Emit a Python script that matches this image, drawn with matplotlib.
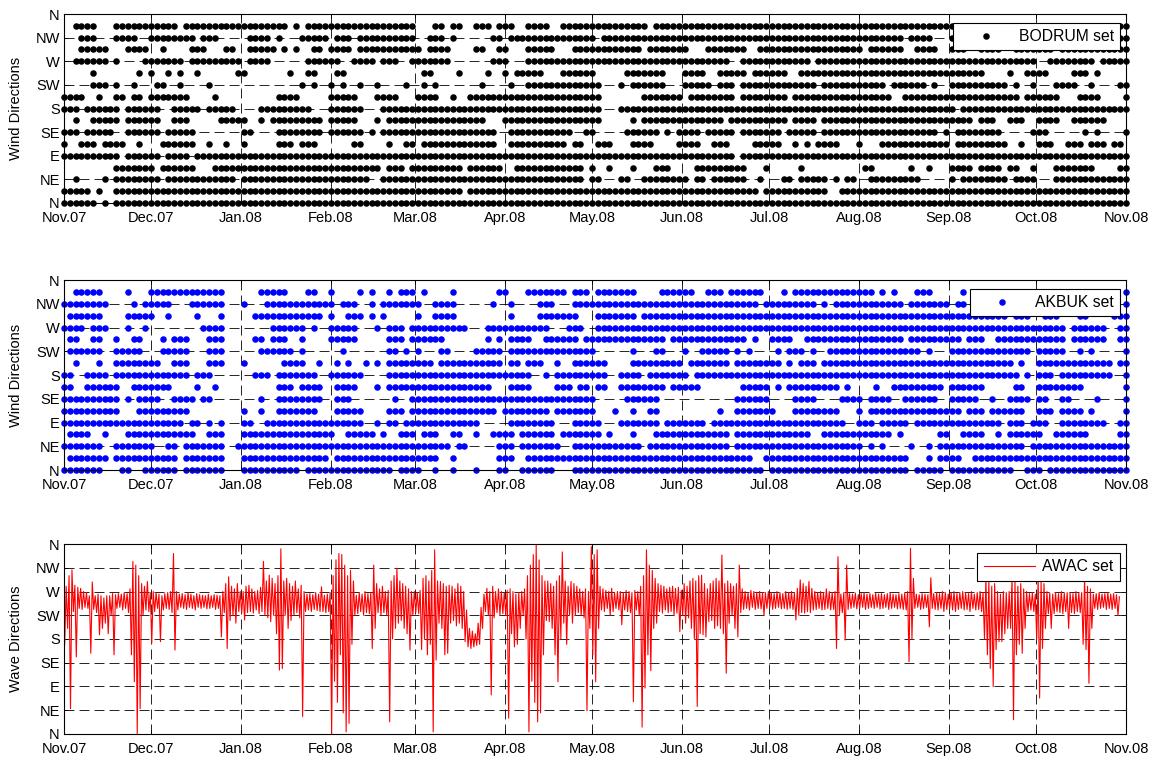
import numpy as np
import matplotlib.pyplot as plt

plt.rcParams['font.family'] = ['Liberation Sans', 'DejaVu Sans']
plt.rcParams['font.size'] = 10.5

# x axis: days since 1 Nov 2007
month_days = [0, 30, 61, 92, 121, 152, 182, 213, 243, 274, 305, 335, 366]
month_labels = ['Nov.07', 'Dec.07', 'Jan.08', 'Feb.08', 'Mar.08', 'Apr.08', 'May.08',
                'Jun.08', 'Jul.08', 'Aug.08', 'Sep.08', 'Oct.08', 'Nov.08']
dir_ticks = [0, 45, 90, 135, 180, 225, 270, 315, 360]
dir_labels = ['N', 'NE', 'E', 'SE', 'S', 'SW', 'W', 'NW', 'N']

# wind observations: runs of 2-day bins (first, last) in which each sector was reported
bodrum_n = [(0, 5), (7, 7), (9, 183)]
bodrum_nne = [(0, 4), (6, 6), (9, 68), (70, 119), (121, 131), (134, 183)]
bodrum_ne = [(2, 2), (7, 7), (9, 16), (18, 29), (31, 52), (55, 89), (91, 92), (96, 97), (100, 107),
             (109, 110), (112, 117), (120, 120), (124, 125), (127, 131), (133, 133), (135, 136),
             (139, 147), (153, 153), (155, 162), (164, 167), (171, 183)]
bodrum_ene = [(9, 15), (17, 22), (26, 54), (56, 58), (60, 68), (70, 75), (78, 89), (91, 91), (94, 94),
              (98, 98), (102, 104), (109, 117), (121, 121), (127, 127), (138, 139), (146, 146),
              (149, 149), (153, 156), (158, 161), (163, 164), (167, 167), (171, 177), (182, 183)]
bodrum_e = [(0, 9), (11, 16), (18, 21), (23, 115), (117, 183)]
bodrum_ese = [(0, 0), (3, 5), (7, 10), (13, 13), (17, 22), (25, 25), (28, 28), (31, 31), (37, 39),
              (41, 43), (50, 51), (56, 56), (59, 60), (62, 74), (77, 86), (88, 89), (92, 94), (98, 101),
              (106, 109), (112, 114), (119, 123), (126, 126), (128, 128), (130, 133), (137, 137),
              (141, 152), (154, 162), (165, 165), (168, 170), (173, 175), (177, 179), (181, 182)]
bodrum_se = [(0, 2), (4, 8), (11, 16), (18, 22), (31, 32), (37, 44), (46, 51), (53, 53), (55, 74),
             (77, 87), (90, 91), (97, 102), (104, 104), (106, 109), (111, 115), (117, 123), (125, 129),
             (131, 150), (152, 152), (154, 161), (167, 169), (176, 176), (178, 178), (183, 183)]
bodrum_sse = [(2, 2), (5, 9), (11, 16), (19, 21), (27, 31), (34, 34), (36, 44), (46, 50), (54, 54),
              (56, 72), (76, 92), (98, 98), (100, 113), (115, 124), (126, 129), (131, 156), (158, 160),
              (163, 165), (168, 171), (174, 179)]
bodrum_s = [(0, 2), (4, 9), (11, 16), (19, 23), (25, 29), (34, 42), (46, 51), (55, 92), (96, 153),
            (155, 171), (172, 183)]
bodrum_ssw = [(0, 3), (6, 6), (9, 10), (12, 13), (15, 21), (26, 26), (37, 40), (46, 50), (54, 57),
              (61, 64), (67, 67), (70, 92), (100, 106), (108, 115), (117, 124), (126, 142), (145, 164),
              (166, 171), (175, 178), (183, 183)]
bodrum_sw = [(5, 7), (9, 9), (12, 12), (16, 17), (20, 20), (25, 25), (41, 41), (43, 43), (46, 46),
             (48, 48), (51, 51), (54, 54), (59, 59), (62, 62), (64, 64), (72, 72), (77, 77), (80, 92),
             (96, 96), (98, 103), (107, 111), (113, 115), (117, 129), (131, 141), (143, 148), (150, 150),
             (153, 162), (164, 164), (167, 167), (171, 174), (177, 177), (182, 183)]
bodrum_wsw = [(5, 5), (13, 13), (15, 15), (18, 18), (20, 20), (23, 23), (30, 31), (39, 39), (42, 43),
              (47, 48), (62, 63), (68, 68), (73, 73), (76, 76), (78, 82), (86, 91), (97, 103), (107, 110),
              (113, 117), (119, 124), (127, 158), (163, 163), (166, 169), (174, 176), (178, 178)]
bodrum_w = [(2, 7), (9, 9), (14, 20), (22, 30), (32, 35), (42, 47), (50, 53), (55, 57), (60, 66),
            (74, 76), (80, 114), (117, 128), (130, 167), (170, 177), (179, 183)]
bodrum_wnw = [(3, 7), (11, 14), (17, 17), (22, 24), (28, 29), (32, 36), (38, 38), (40, 40), (43, 44),
              (46, 49), (51, 61), (63, 66), (71, 72), (75, 76), (80, 84), (88, 99), (101, 107), (111, 117),
              (120, 137), (139, 144), (147, 150), (153, 155), (158, 161), (164, 170), (172, 183)]
bodrum_nw = [(3, 5), (9, 12), (15, 22), (24, 26), (32, 35), (37, 37), (41, 45), (47, 49), (51, 60),
             (63, 65), (67, 67), (74, 75), (77, 91), (93, 144), (146, 149), (153, 154), (182, 183)]
bodrum_nnw = [(2, 5), (9, 19), (21, 38), (40, 40), (42, 60), (64, 65), (67, 68), (71, 73), (75, 77),
              (80, 83), (86, 100), (102, 109), (110, 154), (182, 183)]

akbuk_n = [(0, 6), (10, 11), (14, 19), (21, 27), (31, 40), (42, 56), (58, 61), (64, 64), (67, 67),
           (71, 71), (75, 76), (79, 84), (88, 120), (122, 145), (147, 151), (153, 163), (166, 168),
           (170, 183)]
akbuk_nne = [(1, 7), (9, 19), (21, 27), (31, 45), (47, 62), (63, 64), (67, 67), (75, 77), (80, 118),
             (121, 145), (149, 149), (151, 154), (157, 183)]
akbuk_ne = [(0, 6), (9, 15), (18, 19), (21, 27), (30, 66), (68, 69), (75, 77), (79, 85), (88, 99),
            (101, 114), (116, 137), (139, 139), (141, 141), (146, 146), (149, 149), (151, 165), (167, 183)]
akbuk_ene = [(1, 4), (7, 7), (11, 22), (25, 27), (31, 46), (49, 53), (55, 55), (58, 60), (62, 64),
             (67, 68), (71, 71), (74, 77), (79, 84), (86, 92), (94, 94), (98, 98), (102, 114), (116, 128),
             (131, 142), (144, 144), (151, 152), (155, 158), (161, 161), (163, 168), (171, 176), (182, 183)]
akbuk_e = [(0, 20), (22, 23), (25, 25), (27, 27), (31, 32), (35, 51), (54, 54), (56, 57), (59, 71),
           (77, 84), (88, 92), (96, 102), (104, 110), (112, 134), (137, 139), (141, 145), (147, 161),
           (163, 165), (167, 169), (172, 179), (182, 183)]
akbuk_ese = [(0, 9), (13, 21), (31, 31), (34, 34), (37, 43), (47, 51), (56, 58), (60, 74), (76, 83),
             (85, 91), (95, 95), (98, 98), (101, 102), (113, 113), (116, 122), (126, 133), (137, 137),
             (139, 154), (156, 158), (160, 165), (168, 170), (172, 175), (177, 177), (183, 183)]
akbuk_se = [(0, 9), (11, 11), (13, 16), (19, 22), (24, 25), (34, 34), (37, 44), (47, 49), (57, 57),
            (60, 91), (97, 102), (116, 121), (126, 129), (134, 137), (139, 142), (145, 150), (153, 157),
            (160, 160), (163, 166), (168, 169), (172, 173), (178, 178), (183, 183)]
akbuk_sse = [(0, 1), (4, 9), (12, 18), (23, 23), (26, 26), (37, 39), (41, 44), (47, 50), (54, 54),
             (56, 73), (77, 80), (85, 87), (89, 90), (92, 93), (96, 103), (105, 109), (117, 121),
             (123, 123), (125, 133), (135, 135), (140, 140), (143, 151), (153, 158), (164, 165),
             (168, 175), (183, 183)]
akbuk_s = [(0, 1), (4, 7), (9, 21), (23, 25), (33, 35), (37, 43), (46, 51), (56, 80), (83, 83), (85, 93),
           (96, 99), (101, 107), (109, 164), (166, 166), (168, 170), (172, 180), (183, 183)]
akbuk_ssw = [(2, 2), (6, 6), (9, 16), (19, 21), (25, 27), (31, 31), (38, 41), (44, 44), (47, 47),
             (49, 49), (52, 52), (54, 54), (56, 63), (65, 75), (77, 78), (80, 82), (85, 85), (88, 93),
             (98, 106), (108, 114), (116, 123), (125, 125), (127, 129), (131, 163), (165, 165),
             (168, 180), (182, 183)]
akbuk_sw = [(1, 6), (9, 13), (17, 21), (25, 27), (34, 39), (41, 41), (48, 48), (56, 57), (59, 59),
            (61, 61), (65, 66), (71, 75), (77, 91), (98, 98), (102, 103), (107, 107), (110, 114),
            (116, 116), (118, 118), (123, 123), (125, 127), (129, 129), (132, 147), (149, 149),
            (153, 166), (168, 172), (175, 175), (177, 177), (183, 183)]
akbuk_wsw = [(1, 2), (5, 6), (9, 9), (12, 13), (17, 17), (19, 21), (25, 27), (33, 34), (36, 38), (41, 41),
             (46, 50), (56, 58), (60, 65), (73, 73), (75, 75), (77, 80), (83, 88), (90, 103), (105, 117),
             (119, 119), (122, 125), (128, 144), (146, 154), (156, 158), (161, 172), (174, 179), (182, 183)]
akbuk_w = [(0, 3), (5, 7), (11, 11), (14, 14), (24, 27), (36, 41), (43, 43), (46, 50), (54, 54),
           (56, 58), (60, 69), (73, 83), (87, 89), (92, 140), (141, 172), (174, 179), (182, 183)]
akbuk_wnw = [(1, 6), (11, 15), (18, 18), (23, 23), (27, 27), (33, 44), (46, 46), (49, 51), (53, 53),
             (55, 55), (61, 61), (64, 67), (77, 77), (82, 88), (92, 98), (100, 162), (164, 166),
             (169, 171), (175, 176), (181, 183)]
akbuk_nw = [(0, 7), (12, 12), (14, 18), (22, 27), (31, 31), (35, 46), (48, 50), (53, 53), (55, 61),
            (64, 67), (74, 74), (77, 77), (82, 84), (88, 119), (121, 129), (131, 131), (133, 144),
            (146, 152), (154, 155), (183, 183)]
akbuk_nnw = [(2, 6), (11, 11), (15, 27), (34, 38), (42, 43), (46, 46), (51, 51), (53, 53), (56, 56),
             (58, 60), (62, 62), (67, 67), (75, 76), (80, 86), (88, 90), (92, 98), (103, 108), (111, 113),
             (115, 120), (124, 124), (126, 139), (141, 141), (143, 143), (147, 149), (155, 155), (183, 183)]

# AWAC wave direction: daily lowest and highest reading (deg)
awac_lo = [169, 200, 48, 232, 146, 238, 236, 240, 238, 153,
           236, 230, 188, 200, 210, 190, 225, 150, 238, 240,
           235, 238, 230, 150, 99, 0, 48, 225, 235, 232,
           172, 232, 238, 175, 235, 238, 236, 230, 159, 235,
           240, 238, 236, 240, 238, 235, 240, 238, 240, 237,
           238, 240, 236, 238, 184, 230, 162, 215, 225, 210,
           232, 229, 216, 230, 232, 229, 235, 228, 232, 225,
           220, 213, 225, 190, 121, 124, 225, 200, 215, 225,
           230, 220, 33, 232, 235, 232, 236, 234, 232, 232,
           230, 232, 0, 100, 60, 150, 40, 4, 20, 170,
           225, 228, 232, 225, 230, 228, 162, 200, 230, 225,
           230, 225, 23, 180, 200, 210, 215, 200, 190, 159,
           225, 230, 228, 160, 180, 150, 170, 4, 140, 210,
           200, 150, 153, 210, 215, 205, 210, 200, 175, 165,
           162, 165, 168, 170, 200, 232, 225, 74, 220, 230,
           225, 228, 225, 30, 190, 165, 170, 200, 225, 180,
           4, 100, 60, 23, 40, 150, 215, 213, 200, 150,
           99, 180, 210, 170, 225, 210, 225, 230, 225, 220,
           44, 200, 150, 99, 200, 235, 232, 238, 225, 232,
           238, 235, 207, 235, 232, 230, 61, 235, 225, 13,
           87, 150, 120, 200, 210, 232, 229, 235, 230, 232,
           225, 229, 194, 225, 210, 220, 200, 180, 52, 190,
           188, 184, 213, 215, 200, 205, 200, 190, 115, 210,
           225, 200, 184, 230, 236, 238, 235, 240, 236, 238,
           237, 225, 238, 240, 236, 238, 240, 237, 238, 236,
           238, 236, 216, 225, 230, 229, 232, 230, 235, 236,
           238, 235, 236, 238, 235, 236, 162, 225, 230, 178,
           236, 238, 240, 237, 238, 240, 236, 238, 240, 238,
           240, 237, 238, 240, 236, 238, 240, 237, 238, 236,
           235, 137, 180, 238, 240, 236, 238, 240, 203, 238,
           236, 235, 238, 232, 236, 238, 235, 232, 236, 238,
           235, 236, 232, 238, 235, 236, 232, 180, 150, 124,
           90, 160, 175, 175, 190, 200, 200, 27, 150, 170,
           153, 200, 232, 235, 232, 180, 68, 162, 200, 228,
           200, 228, 232, 230, 228, 232, 200, 230, 228, 232,
           230, 170, 160, 96, 200, 238, 236, 238, 240, 236,
           238, 236, 238, 225]
awac_hi = [280, 300, 311, 282, 278, 276, 270, 268, 262, 288,
           262, 265, 262, 258, 262, 262, 266, 264, 266, 265,
           268, 266, 275, 327, 320, 300, 285, 280, 289, 268,
           270, 268, 265, 262, 266, 268, 270, 342, 270, 265,
           266, 264, 268, 265, 262, 266, 264, 263, 262, 265,
           262, 264, 263, 262, 270, 285, 298, 280, 275, 285,
           270, 270, 280, 282, 275, 270, 272, 278, 327, 290,
           301, 295, 285, 300, 351, 290, 295, 285, 280, 290,
           275, 282, 270, 265, 266, 264, 268, 265, 279, 263,
           265, 268, 300, 330, 342, 340, 320, 300, 310, 290,
           263, 268, 265, 270, 266, 268, 320, 285, 275, 280,
           270, 272, 290, 300, 314, 290, 285, 280, 275, 270,
           270, 268, 272, 295, 300, 290, 310, 349, 290, 289,
           285, 280, 282, 280, 275, 285, 280, 270, 235, 200,
           195, 190, 210, 240, 265, 276, 270, 280, 270, 275,
           270, 268, 272, 275, 270, 265, 268, 270, 275, 300,
           320, 340, 360, 330, 300, 290, 290, 285, 280, 290,
           300, 345, 290, 280, 289, 285, 280, 275, 270, 275,
           270, 355, 340, 349, 280, 275, 272, 270, 276, 268,
           270, 270, 268, 272, 270, 268, 272, 270, 280, 300,
           349, 320, 310, 295, 285, 282, 280, 275, 278, 280,
           276, 278, 272, 285, 280, 290, 295, 290, 300, 301,
           285, 275, 285, 290, 295, 290, 339, 285, 290, 285,
           280, 285, 320, 275, 270, 268, 272, 270, 268, 270,
           268, 268, 270, 268, 266, 270, 268, 266, 270, 268,
           270, 268, 276, 292, 285, 280, 289, 276, 270, 268,
           270, 268, 275, 270, 268, 270, 336, 265, 268, 320,
           266, 265, 267, 264, 266, 268, 265, 266, 264, 267,
           265, 266, 264, 266, 267, 265, 264, 266, 265, 267,
           270, 352, 295, 265, 264, 266, 265, 264, 296, 266,
           268, 266, 270, 268, 265, 268, 270, 266, 268, 270,
           268, 266, 270, 265, 268, 270, 268, 296, 290, 280,
           285, 270, 265, 270, 268, 270, 296, 290, 280, 285,
           275, 270, 266, 268, 265, 296, 290, 285, 270, 267,
           265, 268, 266, 270, 267, 268, 268, 266, 270, 267,
           268, 296, 280, 275, 265, 266, 268, 265, 266, 268,
           265, 266, 264, 260]

sectors = ['n', 'nne', 'ne', 'ene', 'e', 'ese', 'se', 'sse',
           's', 'ssw', 'sw', 'wsw', 'w', 'wnw', 'nw', 'nnw']


def sector_points(prefix):
    xs, ys = [], []
    for k, name in enumerate(sectors):
        for first, last in globals()[prefix + '_' + name]:
            for b in range(first, last + 1):
                xs.append(2 * b)
                ys.append(22.5 * k)
    return xs, ys


def style_axes(ax, ylabel):
    ax.set_xlim(0, 366)
    ax.set_ylim(0, 360)
    ax.set_xticks(month_days)
    ax.set_xticklabels(month_labels)
    ax.set_yticks(dir_ticks)
    ax.set_yticklabels(dir_labels)
    ax.set_ylabel(ylabel, labelpad=9)
    ax.grid(True, color='k', linestyle=(0, (12, 6)), linewidth=0.6)
    ax.set_axisbelow(True)
    ax.tick_params(direction='in', length=3, width=0.6, top=True, right=True)
    ax.tick_params(axis='x', pad=6)
    ax.tick_params(axis='y', pad=3)
    for sp in ax.spines.values():
        sp.set_linewidth(0.8)


def add_legend(ax):
    leg = ax.legend(loc='upper right', bbox_to_anchor=(0.9944, 0.953), borderaxespad=0,
                    fancybox=False, edgecolor='k', framealpha=1, borderpad=0.4,
                    handlelength=3.3, handletextpad=0.45, fontsize=11.3)
    leg.get_frame().set_linewidth(0.8)


fig = plt.figure(figsize=(11.61, 7.58), dpi=100)
ax1 = fig.add_axes([0.0551, 0.7322, 0.9147, 0.2493])
ax2 = fig.add_axes([0.0551, 0.3799, 0.9147, 0.2507])
ax3 = fig.add_axes([0.0551, 0.0317, 0.9147, 0.2506])

bx, by = sector_points('bodrum')
ax1.plot(bx, by, 'o', color='k', ms=4.7, mew=0, clip_on=False, label='BODRUM set')
style_axes(ax1, 'Wind Directions')
add_legend(ax1)

kx, ky = sector_points('akbuk')
ax2.plot(kx, ky, 'o', color='b', ms=4.7, mew=0, clip_on=False, label='AKBUK set')
style_axes(ax2, 'Wind Directions')
add_legend(ax2)

days = np.arange(len(awac_lo))
wx = np.column_stack([days + 0.25, days + 0.75]).ravel()
wy = np.column_stack([awac_lo, awac_hi]).ravel()
ax3.plot(wx, wy, color='r', lw=0.8, label='AWAC set')
style_axes(ax3, 'Wave Directions')
add_legend(ax3)

fig.savefig('out.png', dpi=100)
